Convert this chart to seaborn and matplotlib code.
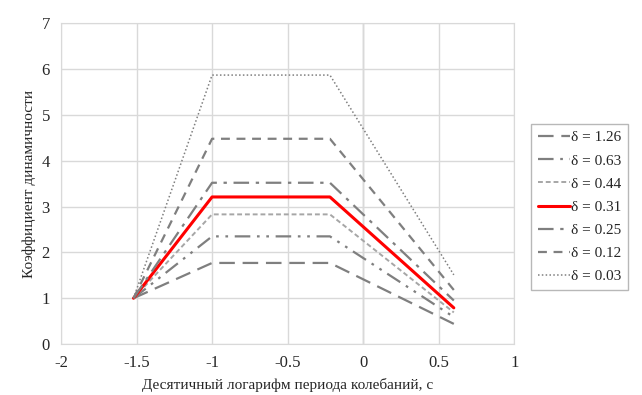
import matplotlib
matplotlib.use("Agg")
import matplotlib.pyplot as plt
import seaborn as sns
from matplotlib.ticker import FuncFormatter, MultipleLocator

# логарифм периода (с) в узловых точках
log_t = [-1.52, -1.0, -0.22, 0.60]

deltas = ["1.26", "0.63", "0.44", "0.31", "0.25", "0.12", "0.03"]

beta_126 = [1.0, 1.77, 1.77, 0.44]
beta_063 = [1.0, 2.35, 2.35, 0.59]
beta_044 = [1.0, 2.83, 2.83, 0.69]
beta_031 = [1.0, 3.21, 3.21, 0.79]
beta_025 = [1.0, 3.52, 3.52, 0.95]
beta_012 = [1.0, 4.48, 4.48, 1.18]
beta_003 = [1.0, 5.87, 5.87, 1.51]

series = [beta_126, beta_063, beta_044, beta_031, beta_025, beta_012, beta_003]

styles = [
    dict(color="#7f7f7f", lw=1.6, ls=(0, (7, 3.5))),
    dict(color="#7f7f7f", lw=1.6, ls=(0, (7, 3, 1.2, 3, 1.2, 3))),
    dict(color="#a6a6a6", lw=1.4, ls=(0, (2.5, 1.5))),
    dict(color="#ff0000", lw=2.2, ls="-"),
    dict(color="#7f7f7f", lw=1.6, ls=(0, (7, 3, 1.5, 3))),
    dict(color="#7f7f7f", lw=1.6, ls=(0, (4, 3))),
    dict(color="#7f7f7f", lw=1.1, ls=(0, (1, 1.5))),
]

sns.set_style("white")
plt.rcParams["font.family"] = ["Liberation Serif", "DejaVu Serif"]

fig = plt.figure(figsize=(6.42, 3.95), dpi=100)
ax = fig.add_axes([0.095, 0.129, 0.706, 0.812])

for d, vals, st in zip(deltas, series, styles):
    sns.lineplot(x=log_t, y=vals, ax=ax, color=st["color"], linewidth=st["lw"],
                 linestyle=st["ls"], label=f"δ = {d}")

ax.set_xlim(-2, 1)
ax.set_ylim(0, 7)
ax.xaxis.set_major_locator(MultipleLocator(0.5))
ax.yaxis.set_major_locator(MultipleLocator(1))
ax.xaxis.set_major_formatter(FuncFormatter(lambda v, p: f"{v:g}"))
ax.yaxis.set_major_formatter(FuncFormatter(lambda v, p: f"{v:g}"))
ax.grid(True, color="#d9d9d9", lw=1)
ax.axvline(0, color="#bfbfbf", lw=1, zorder=0.5)
for s in ax.spines.values():
    s.set_color("#d9d9d9")
ax.tick_params(length=0, labelsize=12, pad=8)

ax.set_xlabel("Десятичный логарифм периода колебаний, с", fontsize=11, labelpad=5)
ax.set_ylabel("Коэффициент динамичности", fontsize=11, labelpad=4)

leg = ax.legend(loc="center left", bbox_to_anchor=(531 / 642, 1 - 207 / 395),
                bbox_transform=fig.transFigure, fontsize=11, frameon=True,
                fancybox=False, handlelength=2.1, handletextpad=0.05,
                labelspacing=0.62, borderpad=0.45, borderaxespad=0)
leg.get_frame().set_edgecolor("#a6a6a6")
leg.get_frame().set_linewidth(1)

plt.savefig("out.png", dpi=100)
